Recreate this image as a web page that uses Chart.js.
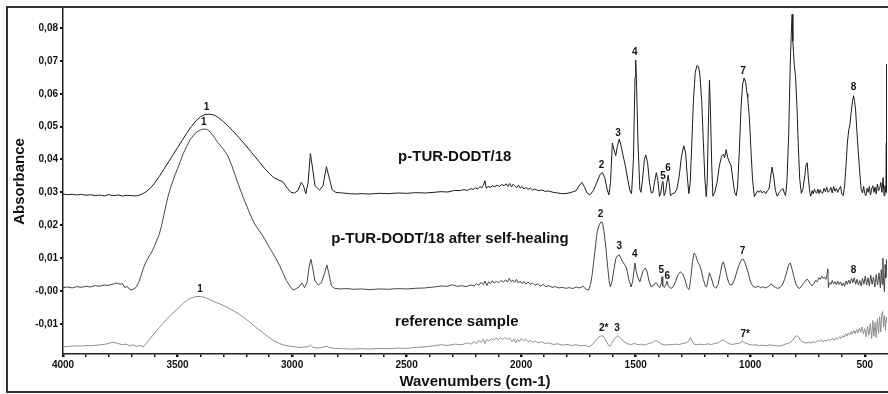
<!DOCTYPE html>
<html><head><meta charset="utf-8">
<script src="https://cdn.jsdelivr.net/npm/chart.js@4"></script>
<style>
html,body{margin:0;padding:0;background:#fff;overflow:hidden}
#wrap{position:relative;width:888px;height:394px}
#frame{position:absolute;left:6px;top:6px;width:900px;height:383px;border:2px solid #333;pointer-events:none}
</style></head><body>
<div id="wrap"><canvas id="c" width="888" height="394"></canvas><div id="frame"></div></div>
<script>
// ---- data (wavenumber cm-1 / absorbance) ----
const wn1 = [4000,3980,3960,3940,3920,3900,3880,3860,3840,3820,3800,3780,3760,3740,3720,3700,3680,3660,3640,3620,3600,3580,3560,3540,3520,3500,3480,3460,3440,3420,3400,3380,3360,3340,3320,3300,3280,3260,3240,3220,3200,3180,3160,3140,3120,3100,3080,3060,3040,3020,3005,2990,2975,2960,2950,2940,2930,2920,2912,2900,2880,2865,2850,2840,2825,2810,2780,2750,2720,2700,2660,2620,2580,2540,2500,2460,2420,2380,2350,2320,2290,2270,2250,2235,2220,2210,2200,2190,2180,2172,2165,2158,2152,2145,2135,2125,2115,2105,2095,2085,2075,2065,2058,2050,2042,2035,2028,2020,2012,2004,1996,1988,1980,1970,1960,1950,1940,1925,1910,1895,1880,1860,1840,1820,1800,1780,1760,1745,1735,1725,1712,1700,1685,1670,1655,1645,1635,1625,1617,1610,1602,1595,1587,1580,1572,1565,1555,1545,1535,1525,1518,1510,1503,1500,1496,1490,1482,1477,1470,1462,1456,1448,1440,1432,1425,1418,1410,1403,1396,1390,1384,1381,1376,1370,1364,1358,1354,1348,1340,1330,1320,1310,1300,1290,1282,1275,1268,1262,1255,1248,1240,1233,1226,1220,1212,1205,1198,1192,1188,1183,1178,1174,1168,1163,1155,1145,1135,1125,1117,1112,1105,1098,1090,1084,1076,1068,1061,1055,1048,1040,1033,1027,1020,1014,1011,1009,1004,997,990,982,975,968,962,955,948,940,932,925,918,912,905,898,890,882,874,866,858,852,846,840,832,825,820,817,814,808,802,796,790,784,777,770,762,756,751,746,740,736,730,725,720,715,710,705,700,695,690,684,678,672,666,660,654,648,642,636,630,624,618,612,606,600,594,588,582,576,570,565,560,554,549,545,540,534,528,522,516,510,505,500,495,490,485,480,475,470,465,460,455,450,445,440,435,430,425,420,416,412,408,406,405,404];
const abs1 = [0.0295,0.0293,0.0294,0.0292,0.0294,0.0291,0.0293,0.0290,0.0292,0.0289,0.0293,0.0290,0.0292,0.0289,0.0291,0.0290,0.0289,0.0293,0.0300,0.0312,0.0328,0.0348,0.0370,0.0392,0.0414,0.0436,0.0458,0.0480,0.0500,0.0517,0.0530,0.0537,0.0538,0.0535,0.0527,0.0515,0.0502,0.0488,0.0473,0.0457,0.0441,0.0424,0.0407,0.0390,0.0373,0.0358,0.0345,0.0338,0.0332,0.0312,0.0300,0.0298,0.0305,0.0330,0.0320,0.0296,0.0330,0.0418,0.0380,0.0320,0.0307,0.0320,0.0378,0.0350,0.0308,0.0300,0.0298,0.0296,0.0295,0.0296,0.0295,0.0297,0.0296,0.0298,0.0297,0.0299,0.0298,0.0300,0.0302,0.0301,0.0306,0.0305,0.0308,0.0306,0.0311,0.0309,0.0314,0.0310,0.0318,0.0313,0.0322,0.0335,0.0312,0.0318,0.0315,0.0320,0.0317,0.0322,0.0318,0.0324,0.0320,0.0326,0.0318,0.0327,0.0316,0.0325,0.0320,0.0314,0.0322,0.0313,0.0318,0.0310,0.0315,0.0309,0.0313,0.0307,0.0310,0.0305,0.0307,0.0303,0.0304,0.0300,0.0298,0.0296,0.0297,0.0300,0.0305,0.0322,0.0330,0.0318,0.0298,0.0292,0.0305,0.0330,0.0355,0.0360,0.0345,0.0310,0.0292,0.0330,0.0450,0.0430,0.0412,0.0440,0.0462,0.0445,0.0412,0.0380,0.0340,0.0305,0.0296,0.0400,0.0650,0.0703,0.0620,0.0450,0.0310,0.0300,0.0340,0.0400,0.0414,0.0390,0.0330,0.0298,0.0300,0.0330,0.0360,0.0335,0.0288,0.0300,0.0330,0.0333,0.0290,0.0300,0.0330,0.0352,0.0330,0.0290,0.0295,0.0298,0.0310,0.0350,0.0410,0.0442,0.0420,0.0350,0.0296,0.0330,0.0450,0.0580,0.0665,0.0685,0.0683,0.0660,0.0580,0.0460,0.0340,0.0287,0.0330,0.0500,0.0642,0.0560,0.0380,0.0288,0.0300,0.0330,0.0380,0.0410,0.0416,0.0405,0.0430,0.0405,0.0390,0.0383,0.0340,0.0300,0.0290,0.0320,0.0420,0.0560,0.0630,0.0648,0.0635,0.0600,0.0590,0.0570,0.0530,0.0430,0.0340,0.0287,0.0295,0.0305,0.0300,0.0306,0.0298,0.0303,0.0296,0.0305,0.0310,0.0340,0.0377,0.0350,0.0305,0.0288,0.0300,0.0305,0.0312,0.0300,0.0290,0.0330,0.0480,0.0700,0.0800,0.0842,0.0760,0.0690,0.0650,0.0560,0.0440,0.0340,0.0297,0.0310,0.0350,0.0385,0.0390,0.0340,0.0300,0.0288,0.0305,0.0295,0.0310,0.0300,0.0298,0.0310,0.0296,0.0308,0.0300,0.0297,0.0312,0.0302,0.0316,0.0300,0.0305,0.0315,0.0298,0.0318,0.0303,0.0312,0.0300,0.0310,0.0318,0.0294,0.0290,0.0320,0.0380,0.0450,0.0490,0.0505,0.0540,0.0575,0.0594,0.0580,0.0550,0.0480,0.0420,0.0360,0.0310,0.0298,0.0318,0.0296,0.0290,0.0312,0.0300,0.0318,0.0292,0.0310,0.0320,0.0300,0.0316,0.0295,0.0325,0.0305,0.0312,0.0330,0.0300,0.0345,0.0290,0.0320,0.0300,0.0450,0.0690,0.0300];

const wn2 = [4000,3980,3960,3940,3920,3900,3880,3860,3840,3820,3800,3780,3765,3750,3740,3730,3720,3710,3700,3690,3680,3670,3660,3650,3640,3630,3620,3610,3600,3590,3580,3570,3560,3550,3540,3530,3520,3510,3500,3490,3475,3460,3445,3430,3415,3400,3385,3370,3355,3340,3325,3310,3295,3280,3265,3250,3235,3220,3205,3190,3175,3160,3145,3130,3115,3100,3085,3070,3055,3040,3025,3010,2996,2985,2970,2957,2945,2935,2925,2918,2910,2900,2885,2872,2860,2848,2840,2828,2815,2790,2760,2730,2700,2660,2620,2580,2540,2500,2460,2420,2380,2350,2320,2300,2280,2260,2240,2220,2205,2195,2185,2175,2165,2158,2150,2142,2134,2126,2118,2108,2098,2088,2078,2068,2060,2052,2044,2036,2028,2020,2012,2004,1996,1988,1980,1970,1960,1950,1940,1928,1916,1904,1892,1880,1865,1850,1835,1820,1805,1790,1775,1760,1745,1730,1715,1705,1697,1690,1683,1675,1668,1660,1652,1645,1638,1630,1622,1615,1610,1603,1595,1587,1580,1572,1565,1557,1548,1540,1530,1520,1513,1506,1503,1498,1490,1482,1475,1467,1458,1450,1442,1432,1425,1418,1410,1402,1395,1388,1385,1382,1375,1368,1363,1358,1350,1343,1335,1325,1315,1305,1295,1285,1275,1267,1260,1252,1245,1238,1230,1222,1214,1205,1195,1190,1185,1178,1170,1160,1150,1140,1130,1122,1117,1110,1102,1094,1088,1078,1068,1058,1048,1040,1032,1025,1018,1010,1002,994,985,975,965,955,945,935,925,915,908,900,890,880,870,860,850,840,832,825,818,810,800,792,784,776,768,760,752,745,738,730,722,715,708,700,694,688,682,676,670,665,661,659,654,648,642,636,630,624,618,612,606,600,594,588,582,576,570,564,558,552,546,540,534,528,522,516,510,504,498,492,486,480,474,468,462,456,450,444,438,432,428,424,421,418,414,411,408,405,403];
const abs2 = [0.0010,0.0012,0.0009,0.0013,0.0011,0.0014,0.0012,0.0016,0.0014,0.0018,0.0017,0.0021,0.0024,0.0020,0.0022,0.0010,0.0014,0.0005,0.0003,0.0006,0.0012,0.0025,0.0045,0.0068,0.0085,0.0098,0.0110,0.0122,0.0138,0.0155,0.0172,0.0198,0.0230,0.0262,0.0292,0.0315,0.0335,0.0355,0.0372,0.0390,0.0418,0.0440,0.0460,0.0474,0.0484,0.0490,0.0493,0.0491,0.0482,0.0468,0.0452,0.0440,0.0427,0.0410,0.0385,0.0355,0.0325,0.0297,0.0270,0.0245,0.0220,0.0200,0.0185,0.0170,0.0152,0.0133,0.0116,0.0098,0.0078,0.0055,0.0032,0.0015,0.0003,0.0006,0.0012,0.0024,0.0010,0.0025,0.0075,0.0097,0.0070,0.0030,0.0018,0.0025,0.0050,0.0079,0.0055,0.0015,0.0008,0.0006,0.0007,0.0005,0.0006,0.0004,0.0006,0.0005,0.0007,0.0006,0.0008,0.0009,0.0012,0.0015,0.0014,0.0019,0.0014,0.0016,0.0013,0.0018,0.0015,0.0022,0.0017,0.0026,0.0019,0.0030,0.0016,0.0028,0.0022,0.0031,0.0024,0.0029,0.0025,0.0032,0.0026,0.0034,0.0027,0.0038,0.0028,0.0033,0.0026,0.0035,0.0024,0.0030,0.0022,0.0029,0.0021,0.0027,0.0020,0.0024,0.0017,0.0022,0.0015,0.0019,0.0013,0.0016,0.0011,0.0013,0.0009,0.0011,0.0008,0.0010,0.0007,0.0012,0.0009,0.0014,0.0004,0.0003,0.0020,0.0050,0.0090,0.0140,0.0180,0.0200,0.0210,0.0208,0.0180,0.0130,0.0070,0.0025,0.0012,0.0030,0.0065,0.0098,0.0106,0.0110,0.0100,0.0088,0.0080,0.0070,0.0035,0.0012,0.0030,0.0070,0.0085,0.0060,0.0040,0.0027,0.0045,0.0062,0.0070,0.0058,0.0030,0.0012,0.0015,0.0022,0.0025,0.0015,0.0010,0.0025,0.0043,0.0015,0.0010,0.0020,0.0030,0.0015,0.0010,0.0008,0.0015,0.0030,0.0050,0.0058,0.0052,0.0035,0.0010,0.0004,0.0035,0.0090,0.0115,0.0108,0.0090,0.0080,0.0064,0.0035,0.0014,0.0012,0.0030,0.0055,0.0040,0.0015,0.0008,0.0020,0.0055,0.0085,0.0088,0.0070,0.0045,0.0025,0.0018,0.0020,0.0035,0.0060,0.0080,0.0093,0.0097,0.0090,0.0075,0.0058,0.0035,0.0020,0.0012,0.0011,0.0014,0.0010,0.0013,0.0009,0.0012,0.0016,0.0022,0.0015,0.0010,0.0008,0.0010,0.0018,0.0035,0.0060,0.0080,0.0085,0.0068,0.0045,0.0020,0.0010,0.0008,0.0015,0.0022,0.0030,0.0036,0.0030,0.0022,0.0015,0.0022,0.0032,0.0028,0.0040,0.0035,0.0045,0.0038,0.0042,0.0035,0.0048,0.0067,0.0010,0.0025,0.0020,0.0032,0.0022,0.0028,0.0018,0.0030,0.0020,0.0027,0.0016,0.0024,0.0014,0.0030,0.0020,0.0033,0.0022,0.0038,0.0025,0.0040,0.0020,0.0035,0.0018,0.0032,0.0015,0.0038,0.0020,0.0045,0.0018,0.0040,0.0015,0.0048,0.0020,0.0042,0.0012,0.0050,0.0018,0.0055,0.0010,0.0065,0.0020,0.0100,0.0030,-0.0003,0.0080,0.0040,0.0095,0.0060];

const wn3 = [4000,3975,3950,3925,3900,3875,3850,3825,3800,3785,3770,3755,3740,3725,3710,3695,3680,3665,3650,3640,3625,3610,3595,3580,3565,3550,3535,3520,3505,3490,3475,3460,3445,3430,3415,3400,3385,3370,3355,3340,3325,3310,3295,3280,3265,3250,3235,3220,3205,3190,3175,3160,3145,3130,3115,3100,3085,3070,3055,3040,3025,3010,2990,2970,2950,2930,2920,2910,2890,2870,2850,2835,2810,2780,2740,2700,2660,2620,2580,2540,2500,2460,2420,2380,2350,2320,2290,2260,2235,2220,2205,2195,2185,2175,2165,2158,2150,2140,2130,2120,2110,2100,2090,2080,2070,2060,2050,2040,2032,2024,2016,2008,2000,1990,1980,1970,1960,1950,1940,1925,1910,1895,1880,1860,1840,1820,1800,1780,1760,1740,1720,1705,1690,1675,1660,1648,1638,1625,1614,1605,1592,1578,1565,1550,1535,1520,1505,1490,1475,1460,1445,1430,1418,1410,1400,1385,1370,1355,1340,1325,1310,1295,1280,1268,1261,1254,1245,1230,1215,1200,1185,1170,1155,1140,1128,1119,1108,1095,1080,1065,1050,1040,1034,1028,1018,1005,990,975,960,945,930,915,900,885,870,855,840,828,815,805,796,788,778,766,756,745,735,725,715,705,697,690,682,674,666,658,650,642,634,626,618,610,603,596,590,584,578,572,566,560,554,548,542,536,530,524,518,512,506,500,494,488,482,476,470,465,460,455,450,445,440,435,430,426,422,418,414,410,406,403];
const abs3 = [-0.0170,-0.0169,-0.0167,-0.0168,-0.0166,-0.0167,-0.0165,-0.0163,-0.0160,-0.0156,-0.0158,-0.0161,-0.0164,-0.0162,-0.0167,-0.0164,-0.0169,-0.0166,-0.0170,-0.0162,-0.0150,-0.0137,-0.0124,-0.0112,-0.0100,-0.0088,-0.0077,-0.0067,-0.0058,-0.0048,-0.0038,-0.0029,-0.0023,-0.0019,-0.0017,-0.0017,-0.0019,-0.0023,-0.0028,-0.0033,-0.0037,-0.0041,-0.0046,-0.0051,-0.0057,-0.0063,-0.0069,-0.0076,-0.0084,-0.0092,-0.0101,-0.0110,-0.0118,-0.0126,-0.0134,-0.0142,-0.0149,-0.0155,-0.0160,-0.0164,-0.0167,-0.0168,-0.0170,-0.0172,-0.0171,-0.0170,-0.0165,-0.0171,-0.0174,-0.0172,-0.0168,-0.0173,-0.0175,-0.0176,-0.0177,-0.0176,-0.0177,-0.0175,-0.0176,-0.0174,-0.0175,-0.0172,-0.0170,-0.0167,-0.0164,-0.0166,-0.0162,-0.0164,-0.0158,-0.0162,-0.0155,-0.0160,-0.0150,-0.0157,-0.0146,-0.0160,-0.0148,-0.0153,-0.0145,-0.0150,-0.0143,-0.0149,-0.0142,-0.0148,-0.0141,-0.0147,-0.0143,-0.0155,-0.0146,-0.0158,-0.0148,-0.0154,-0.0145,-0.0152,-0.0147,-0.0155,-0.0150,-0.0157,-0.0152,-0.0158,-0.0155,-0.0160,-0.0158,-0.0163,-0.0161,-0.0165,-0.0163,-0.0166,-0.0164,-0.0167,-0.0166,-0.0170,-0.0164,-0.0152,-0.0140,-0.0136,-0.0140,-0.0158,-0.0170,-0.0160,-0.0145,-0.0136,-0.0145,-0.0155,-0.0161,-0.0163,-0.0160,-0.0164,-0.0162,-0.0165,-0.0160,-0.0158,-0.0153,-0.0151,-0.0156,-0.0162,-0.0165,-0.0163,-0.0164,-0.0162,-0.0163,-0.0160,-0.0158,-0.0152,-0.0142,-0.0152,-0.0162,-0.0164,-0.0162,-0.0164,-0.0161,-0.0163,-0.0160,-0.0158,-0.0152,-0.0149,-0.0154,-0.0160,-0.0163,-0.0161,-0.0160,-0.0156,-0.0152,-0.0157,-0.0159,-0.0163,-0.0165,-0.0164,-0.0166,-0.0165,-0.0167,-0.0164,-0.0166,-0.0167,-0.0168,-0.0164,-0.0160,-0.0158,-0.0150,-0.0140,-0.0136,-0.0142,-0.0152,-0.0156,-0.0159,-0.0156,-0.0159,-0.0155,-0.0157,-0.0151,-0.0154,-0.0148,-0.0155,-0.0150,-0.0153,-0.0147,-0.0152,-0.0145,-0.0150,-0.0143,-0.0147,-0.0139,-0.0144,-0.0136,-0.0141,-0.0130,-0.0138,-0.0128,-0.0134,-0.0124,-0.0132,-0.0120,-0.0130,-0.0117,-0.0128,-0.0114,-0.0126,-0.0110,-0.0130,-0.0115,-0.0140,-0.0108,-0.0135,-0.0100,-0.0145,-0.0090,-0.0138,-0.0095,-0.0142,-0.0085,-0.0130,-0.0078,-0.0125,-0.0070,-0.0063,-0.0110,-0.0075,-0.0120,-0.0080,-0.0097];

const seriesNames = ['p-TUR-DODT/18', 'p-TUR-DODT/18 after self-healing', 'reference sample'];
const xTickValues = [4000,3900,3800,3700,3600,3500,3400,3300,3200,3100,3000,2900,2800,2700,2600,2500,2400,2300,2200,2100,2000,1900,1800,1700,1600,1500,1400,1300,1200,1100,1000,900,800,700,600,500];
const xTickLabels = {4000:'4000',3500:'3500',3000:'3000',2500:'2500',2000:'2000',1500:'1500',1000:'1000',500:'500'};
const yTickValues = [0.08,0.07,0.06,0.05,0.04,0.03,0.02,0.01,0,-0.01];
const yTickLabels = ['0,08','0,07','0,06','0,05','0,04','0,03','0,02','0,01','-0,00','-0,01'];

// annotation texts: [text, wavenumber, absorbance]
const nameLabels = [['p-TUR-DODT/18',2290,0.0408],['p-TUR-DODT/18 after self-healing',2311,0.0158],['reference sample',2281,-0.0094]];
const peakLabels = [
 ['1',3373,0.0560],['2',1649,0.0381],['3',1577,0.0480],['4',1504,0.0726],['5',1381,0.0348],['6',1359,0.0373],['7',1031,0.0669],['8',549,0.0620],
 ['1',3385,0.0512],['2',1654,0.0234],['3',1572,0.0135],['4',1504,0.0113],['5',1388,0.0064],['6',1362,0.0046],['7',1034,0.0122],['8',549,0.0064],
 ['1',3402,0.0006],['2*',1640,-0.0113],['3',1581,-0.0113],['7*',1022,-0.0131]
];

const FONT = "'Liberation Sans', Arial, sans-serif";
const toXY = (xs, ys) => xs.map((x, i) => ({x: x, y: ys[i]}));

const textPlugin = {
  id: 'texts',
  afterDatasetsDraw(chart) {
    const {ctx, scales: {x, y}} = chart;
    ctx.save();
    ctx.fillStyle = '#111';
    ctx.textAlign = 'center';
    ctx.textBaseline = 'middle';
    ctx.font = 'bold 15px ' + FONT;
    nameLabels.forEach(l => ctx.fillText(l[0], x.getPixelForValue(l[1]), y.getPixelForValue(l[2])));
    ctx.font = 'bold 10px ' + FONT;
    peakLabels.forEach(l => ctx.fillText(l[0], x.getPixelForValue(l[1]), y.getPixelForValue(l[2])));
    ctx.restore();
  }
};

new Chart(document.getElementById('c'), {
  type: 'line',
  data: {
    datasets: [
      {label: seriesNames[0], data: toXY(wn1, abs1), borderColor: '#1c1c1c', borderWidth: 1.0},
      {label: seriesNames[1], data: toXY(wn2, abs2), borderColor: '#454545', borderWidth: 1.0},
      {label: seriesNames[2], data: toXY(wn3, abs3), borderColor: '#8e8e8e', borderWidth: 1.0}
    ]
  },
  options: {
    responsive: false,
    animation: false,
    events: [],
    layout: {padding: {left: 8, top: 9, right: 1, bottom: 0}},
    elements: {point: {radius: 0}, line: {tension: 0}},
    plugins: {legend: {display: false}, tooltip: {enabled: false}},
    scales: {
      x: {
        type: 'linear', reverse: true, min: 403, max: 4000,
        afterBuildTicks: s => { s.ticks = xTickValues.map(v => ({value: v})); },
        afterFit: s => { s.height = 40; },
        border: {display: true, color: '#222', width: 1.5, dash: [2, 2]},
        grid: {drawOnChartArea: false, drawTicks: true, tickLength: 3, color: '#111',
               lineWidth: c => (c.tick && xTickLabels[c.tick.value]) ? 2.5 : 1.5},
        ticks: {autoSkip: false, maxRotation: 0, padding: 2, color: '#111',
                font: {family: FONT, size: 10, weight: 'bold'},
                callback: v => xTickLabels[v] || ''},
        title: {display: true, text: 'Wavenumbers (cm-1)', color: '#111',
                font: {family: FONT, size: 15, weight: 'bold'}, padding: {top: 0, bottom: 3}}
      },
      y: {
        type: 'linear', min: -0.0192, max: 0.0858,
        afterBuildTicks: s => { s.ticks = yTickValues.map(v => ({value: v})); },
        afterFit: s => { s.width = 55; },
        border: {display: true, color: '#222', width: 1.5, dash: [2, 2]},
        grid: {drawOnChartArea: false, drawTicks: true, tickLength: 3, color: '#111', lineWidth: 2},
        ticks: {autoSkip: false, padding: 2, color: '#111',
                font: {family: FONT, size: 10, weight: 'bold'},
                callback: (v) => yTickLabels[yTickValues.indexOf(v)] ?? ''},
        title: {display: true, text: 'Absorbance', color: '#111',
                font: {family: FONT, size: 15, weight: 'bold'}, padding: {top: 3, bottom: 0}}
      }
    }
  },
  plugins: [textPlugin]
});
</script>
</body></html>
